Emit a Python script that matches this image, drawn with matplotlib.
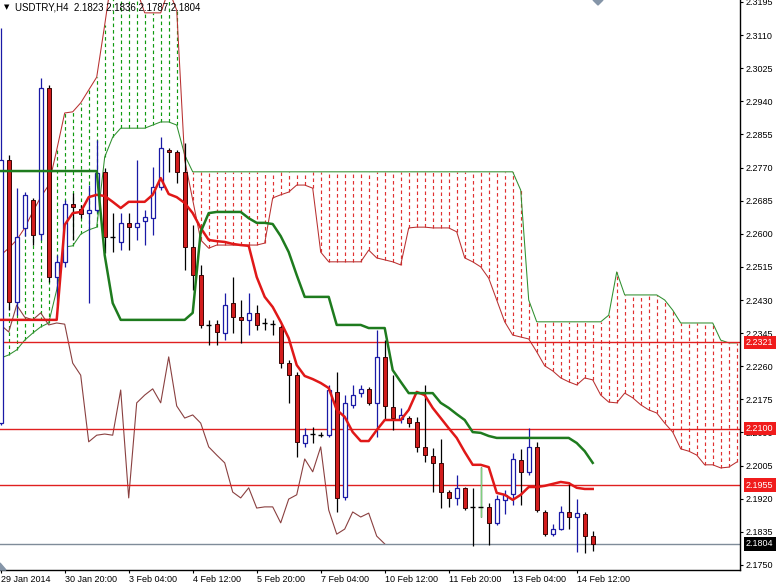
import numpy as np
import matplotlib.pyplot as plt
from matplotlib.patches import Polygon

plt.rcParams['font.family'] = ['Liberation Sans', 'DejaVu Sans']

# USDTRY H4 candles, one entry per bar (first bar 29 Jan 2014)
opens = [2.2114, 2.2789, 2.2425, 2.2615, 2.2687, 2.2599, 2.2974, 2.2489, 2.2528, 2.2676,
         2.2664, 2.2653, 2.2661, 2.2759, 2.2592, 2.2579, 2.2628, 2.2617, 2.2633, 2.2640,
         2.2720, 2.2815, 2.2810, 2.2759, 2.2566, 2.2494, 2.2366, 2.2368, 2.2345, 2.2422,
         2.2386, 2.2379, 2.2397, 2.2371, 2.2368, 2.2361, 2.2268, 2.2237, 2.2063, 2.2086,
         2.2083, 2.2083, 2.2194, 2.1924, 2.2161, 2.2191, 2.2202, 2.2166, 2.2284, 2.2155,
         2.2125, 2.2127, 2.2117, 2.2053, 2.2030, 2.2012, 2.1937, 2.1922, 2.1948, 2.1899,
         2.1899, 2.1899, 2.1858, 2.1917, 2.1932, 2.2019, 2.1989, 2.2053, 2.1886, 2.1829,
         2.1842, 2.1886, 2.1873, 2.1881, 2.1823]
highs = [2.3128, 2.2802, 2.2717, 2.2707, 2.2692, 2.3000, 2.2982, 2.2545, 2.2687, 2.2705,
         2.2674, 2.2725, 2.2841, 2.2769, 2.2653, 2.2653, 2.2653, 2.2789, 2.2661, 2.2771,
         2.2848, 2.2820, 2.2815, 2.2833, 2.2623, 2.2520, 2.2379, 2.2379, 2.2448, 2.2489,
         2.2430, 2.2448, 2.2417, 2.2384, 2.2379, 2.2366, 2.2276, 2.2245, 2.2101, 2.2104,
         2.2091, 2.2212, 2.2245, 2.2186, 2.2212, 2.2212, 2.2207, 2.2353, 2.2327, 2.2237,
         2.2153, 2.2132, 2.2130, 2.2212, 2.2050, 2.2073, 2.1942, 2.1981, 2.1950, 2.1948,
         2.2001, 2.1909, 2.1930, 2.1942, 2.2037, 2.2048, 2.2101, 2.2066, 2.1891, 2.1855,
         2.1901, 2.1963, 2.1919, 2.1886, 2.1836]
lows = [2.2109, 2.2404, 2.2391, 2.2594, 2.2571, 2.2584, 2.2476, 2.2417, 2.2515, 2.2584,
        2.2640, 2.2422, 2.2656, 2.2551, 2.2553, 2.2558, 2.2558, 2.2584, 2.2571, 2.2597,
        2.2712, 2.2759, 2.2730, 2.2507, 2.2456, 2.2358, 2.2314, 2.2314, 2.2327, 2.2345,
        2.2320, 2.2340, 2.2353, 2.2353, 2.2340, 2.2255, 2.2166, 2.2027, 2.2053, 2.2063,
        2.2078, 2.2078, 2.1886, 2.1917, 2.2153, 2.2181, 2.2161, 2.2078, 2.2122, 2.2096,
        2.2114, 2.2104, 2.2040, 2.2014, 2.1937, 2.1896, 2.1899, 2.1904, 2.1891, 2.1799,
        2.1873, 2.1801, 2.1853, 2.1881, 2.1904, 2.1904, 2.1981, 2.1886, 2.1824, 2.1824,
        2.1840, 2.1842, 2.1783, 2.1781, 2.1787]
closes = [2.2789, 2.2425, 2.2592, 2.2700, 2.2597, 2.2974, 2.2489, 2.2528, 2.2676, 2.2669,
          2.2651, 2.2661, 2.2756, 2.2592, 2.2592, 2.2628, 2.2617, 2.2628, 2.2643, 2.2720,
          2.2820, 2.2810, 2.2759, 2.2566, 2.2494, 2.2366, 2.2366, 2.2348, 2.2417, 2.2386,
          2.2379, 2.2397, 2.2366, 2.2371, 2.2368, 2.2268, 2.2237, 2.2066, 2.2083, 2.2086,
          2.2083, 2.2199, 2.1922, 2.2166, 2.2186, 2.2202, 2.2166, 2.2284, 2.2158, 2.2127,
          2.2135, 2.2114, 2.2053, 2.2032, 2.2012, 2.1937, 2.1922, 2.1948, 2.1896, 2.1899,
          2.1899, 2.1858, 2.1919, 2.1930, 2.2022, 2.1989, 2.2053, 2.1891, 2.1829, 2.1842,
          2.1886, 2.1873, 2.1883, 2.1824, 2.1804]

# Ichimoku lines
tenkan = [2.2379, 2.2379, 2.2379, 2.2379, 2.2379, 2.2379, 2.2379, 2.2379, 2.2623, 2.2653,
          2.2656, 2.2694, 2.2700, 2.2697, 2.2682, 2.2666, 2.2682, 2.2682, 2.2682, 2.2700,
          2.2743, 2.2702, 2.2694, 2.2679, 2.2653, 2.2615, 2.2584, 2.2581, 2.2579, 2.2574,
          2.2571, 2.2569, 2.2489, 2.2438, 2.2412, 2.2374, 2.2332, 2.2263, 2.2235, 2.2227,
          2.2217, 2.2204, 2.2148, 2.2130, 2.2091, 2.2068, 2.2068, 2.2096, 2.2122, 2.2122,
          2.2122, 2.2148, 2.2194, 2.2186, 2.2153, 2.2127, 2.2101, 2.2076, 2.2040, 2.2007,
          2.2007, 2.2001, 2.1935, 2.1930, 2.1917, 2.1930, 2.1950, 2.1950, 2.1953, 2.1958,
          2.1963, 2.1960, 2.1948, 2.1945, 2.1945]
kijun = [2.2761, 2.2761, 2.2761, 2.2761, 2.2761, 2.2761, 2.2761, 2.2761, 2.2761, 2.2761,
         2.2761, 2.2761, 2.2761, 2.2545, 2.2422, 2.2379, 2.2379, 2.2379, 2.2379, 2.2379,
         2.2379, 2.2379, 2.2379, 2.2379, 2.2397, 2.2605, 2.2653, 2.2656, 2.2656, 2.2656,
         2.2656, 2.2640, 2.2628, 2.2628, 2.2625, 2.2594, 2.2553, 2.2494, 2.2438, 2.2438,
         2.2438, 2.2438, 2.2366, 2.2366, 2.2366, 2.2366, 2.2358, 2.2358, 2.2358, 2.2250,
         2.2220, 2.2191, 2.2191, 2.2191, 2.2191, 2.2166, 2.2153, 2.2137, 2.2122, 2.2091,
         2.2089, 2.2081, 2.2076, 2.2076, 2.2076, 2.2076, 2.2076, 2.2076, 2.2076, 2.2076,
         2.2076, 2.2076, 2.2063, 2.2042, 2.2012]
senkou_a = [2.2281, 2.2289, 2.2302, 2.2327, 2.2345, 2.2361, 2.2371, 2.2456, 2.2566, 2.2569,
            2.2599, 2.2610, 2.2617, 2.2797, 2.2848, 2.2871, 2.2871, 2.2871, 2.2871, 2.2879,
            2.2887, 2.2887, 2.2879, 2.2802, 2.2759, 2.2759, 2.2759, 2.2759, 2.2759, 2.2759,
            2.2759, 2.2759, 2.2759, 2.2759, 2.2759, 2.2759, 2.2759, 2.2759, 2.2759, 2.2759,
            2.2759, 2.2759, 2.2759, 2.2759, 2.2759, 2.2759, 2.2759, 2.2759, 2.2759, 2.2759,
            2.2759, 2.2759, 2.2759, 2.2759, 2.2759, 2.2759, 2.2759, 2.2759, 2.2759, 2.2759,
            2.2759, 2.2759, 2.2759, 2.2759, 2.2759, 2.2712, 2.2430, 2.2374, 2.2374, 2.2374,
            2.2374, 2.2374, 2.2374, 2.2374, 2.2374, 2.2374, 2.2391, 2.2502, 2.2443, 2.2443,
            2.2443, 2.2443, 2.2443, 2.2430, 2.2404, 2.2371, 2.2371, 2.2371, 2.2371, 2.2371,
            2.2327, 2.2320, 2.2320]
senkou_b = [2.2545, 2.2563, 2.2584, 2.2615, 2.2656, 2.2694, 2.2725, 2.2815, 2.2910, 2.2913,
            2.2936, 2.2969, 2.3002, 2.3136, 2.3277, 2.3277, 2.3277, 2.3226, 2.3167, 2.3167,
            2.3167, 2.3226, 2.3174, 2.2789, 2.2687, 2.2584, 2.2563, 2.2571, 2.2571, 2.2571,
            2.2571, 2.2571, 2.2571, 2.2576, 2.2692, 2.2700, 2.2707, 2.2725, 2.2725, 2.2717,
            2.2553, 2.2528, 2.2528, 2.2528, 2.2528, 2.2528, 2.2558, 2.2538, 2.2533, 2.2528,
            2.2520, 2.2615, 2.2617, 2.2617, 2.2615, 2.2615, 2.2615, 2.2605, 2.2538, 2.2528,
            2.2515, 2.2486, 2.2430, 2.2374, 2.2340, 2.2335, 2.2330, 2.2297, 2.2261, 2.2248,
            2.2230, 2.2220, 2.2212, 2.2230, 2.2225, 2.2186, 2.2168, 2.2166, 2.2191, 2.2179,
            2.2161, 2.2148, 2.2140, 2.2114, 2.2091, 2.2048, 2.2042, 2.2032, 2.2007, 2.2007,
            2.1999, 2.2001, 2.2014]

tick_labels = ['29 Jan 2014', '30 Jan 20:00', '3 Feb 04:00', '4 Feb 12:00', '5 Feb 20:00',
               '7 Feb 04:00', '10 Feb 12:00', '11 Feb 20:00', '13 Feb 04:00', '14 Feb 12:00']
levels = [2.2321, 2.2100, 2.1955]
last_price = 2.1804
title = 'USDTRY,H4  2.1823 2.1836 2.1787 2.1804'

o = np.array(opens)
h = np.array(highs)
l = np.array(lows)
c = np.array(closes)
x = np.arange(len(c))

W, H = 777, 587
fig = plt.figure(figsize=(W / 100, H / 100), dpi=100)
ax = fig.add_axes([0, 17 / H, 740 / W, 570 / H])

# cloud: dashed vertical hatching between the two spans
a = np.array(senkou_a)
b = np.array(senkou_b)
xc = np.arange(len(a))
hatch_cols = ['#0f9a0f' if a[i] < b[i] else '#e03030' for i in range(len(a))]
ax.vlines(xc, np.minimum(a, b), np.maximum(a, b), colors=hatch_cols,
          linestyles=(0, (3, 2.5)), linewidth=0.85, zorder=1)
ax.plot(xc, a, color='#2f8f2f', lw=0.75, zorder=2)
ax.plot(xc, b, color='#b83030', lw=0.75, zorder=2)

# chikou span = closes moved 26 bars back
ax.plot(np.arange(len(c) - 26), c[26:], color='#8a4040', lw=0.8, zorder=2)

for lv in levels:
    ax.axhline(lv, color='#e02020', lw=1, zorder=2)
ax.axhline(last_price, color='#7f8c99', lw=1, zorder=2)

# candles
up = c > o
down = c < o
flat = c == o
ax.vlines(x[up], l[up], h[up], color='#1a1aa6', lw=0.9, zorder=3)
ax.vlines(x[~up], l[~up], h[~up], color='black', lw=0.9, zorder=3)
ax.vlines([60], [l[60]], [h[60]], color='#7fd07f', lw=1.0, zorder=3)
ax.bar(x[up], c[up] - o[up], bottom=o[up], width=0.55, facecolor='white',
       edgecolor='#1a1aa6', lw=0.9, zorder=4)
ax.bar(x[down], o[down] - c[down], bottom=c[down], width=0.55, facecolor='#d21c1c',
       edgecolor='#3a0505', lw=0.7, zorder=4)
ax.hlines(c[flat], x[flat] - 0.3, x[flat] + 0.3, color='black', lw=1, zorder=4)

ax.plot(x, tenkan, color='#e01818', lw=1.8, zorder=5, solid_joinstyle='round')
ax.plot(x, kijun, color='#1e7b1e', lw=1.8, zorder=5, solid_joinstyle='round')

ax.set_xlim(-0.0875, 92.41)
ax.set_ylim(2.1737, 2.3200)

for side in ['left', 'top']:
    ax.spines[side].set_visible(False)
ax.spines['right'].set_linewidth(1)
ax.spines['bottom'].set_linewidth(1)

yt = np.round(np.arange(2.1750, 2.3200, 0.0085), 4)
ax.yaxis.tick_right()
ax.set_yticks(yt, [f'{v:.4f}' for v in yt])
ax.set_xticks(np.arange(0, 8 * len(tick_labels), 8), tick_labels, ha='left')
ax.tick_params(axis='y', direction='out', length=2.4, width=0.8, pad=1.5, labelsize=6.5)
ax.tick_params(axis='x', direction='out', length=2.4, width=0.8, pad=1.5, labelsize=6.5)

# price labels on the right axis
for lv, fc in [(2.2321, '#f01c1c'), (2.2100, '#f01c1c'), (2.1955, '#f01c1c'),
               (last_price, 'black')]:
    ax.text(1.0081, lv, f'{lv:.4f}', transform=ax.get_yaxis_transform(), ha='left',
            va='center', fontsize=6.5, color='white', clip_on=False, zorder=10,
            bbox=dict(boxstyle='square,pad=0.25', fc=fc, ec='none'))

fig.text(4 / W, 1 - 7.5 / H, '\u25bc', fontsize=5, va='center', family=['DejaVu Sans'])
fig.text(15 / W, 1 - 7.5 / H, title, fontsize=7, va='center')

fig.add_artist(Polygon([[593 / W, 1], [603 / W, 1], [598 / W, 1 - 5 / H]],
                       closed=True, transform=fig.transFigure, color='#8595a8'))
fig.add_artist(Polygon([[0, 24 / H], [6 / W, 17 / H], [0, 17 / H]],
                       closed=True, transform=fig.transFigure, color='#8595a8'))

fig.savefig('out.png', dpi=100)
